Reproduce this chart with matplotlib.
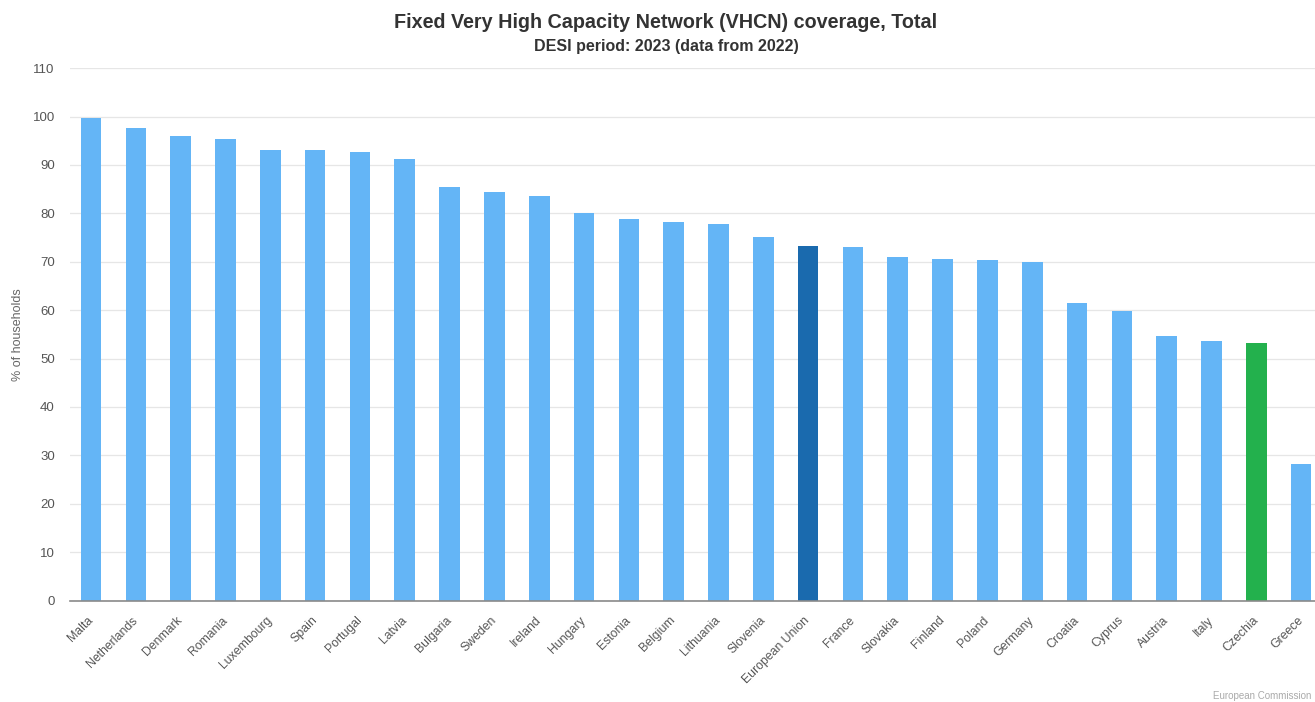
import matplotlib
matplotlib.use("Agg")
import matplotlib.pyplot as plt

plt.rcParams['font.family'] = ['Liberation Sans', 'DejaVu Sans']

countries = ["Malta", "Netherlands", "Denmark", "Romania", "Luxembourg", "Spain",
             "Portugal", "Latvia", "Bulgaria", "Sweden", "Ireland", "Hungary",
             "Estonia", "Belgium", "Lithuania", "Slovenia", "European Union",
             "France", "Slovakia", "Finland", "Poland", "Germany", "Croatia",
             "Cyprus", "Austria", "Italy", "Czechia", "Greece"]
values = [99.7, 97.6, 96.0, 95.3, 93.0, 93.0, 92.7, 91.3, 85.4, 84.4, 83.5,
          80.0, 78.9, 78.1, 77.8, 75.2, 73.2, 73.0, 71.0, 70.6, 70.4, 69.9,
          61.4, 59.9, 54.6, 53.6, 53.1, 28.2]
yticks = [0, 10, 20, 30, 40, 50, 60, 70, 80, 90, 100, 110]

base_color = "#64b5f6"
eu_color = "#1a6aae"
cz_color = "#23b14d"
colors = [eu_color if c == "European Union" else cz_color if c == "Czechia" else base_color
          for c in countries]

fig = plt.figure(figsize=(13.15, 7.02), dpi=100)
ax = fig.add_axes([70/1315, 1 - 600.5/702, 1 - 70/1315, (600.5 - 68.1)/702])

x = list(range(len(countries)))
ax.bar(x, values, width=0.46, color=colors, zorder=3)

ax.set_xlim(-0.47, 27.31)
ax.set_ylim(0, 110)
ax.set_yticks(yticks)
ax.set_yticklabels([str(v) for v in yticks], fontsize=9.5, color="#555555")
ax.tick_params(axis='y', length=0, pad=11)
ax.tick_params(axis='x', length=0, pad=13)
ax.grid(axis='y', color="#e6e6e6", linewidth=0.9, zorder=0)
ax.set_axisbelow(True)
for s in ["top", "right", "left"]:
    ax.spines[s].set_visible(False)
ax.spines["bottom"].set_color("#8a8a8a")
ax.spines["bottom"].set_linewidth(1.2)
ax.spines["bottom"].set_zorder(4)

ax.set_xticks(x)
ax.set_xticklabels(countries, rotation=45, ha="right", va="center",
                   rotation_mode="anchor", fontsize=8.8, color="#555555")

ax.set_ylabel("% of households", fontsize=9, color="#666666", labelpad=6)

fig.text(666/1315, 1 - 22/702, "Fixed Very High Capacity Network (VHCN) coverage, Total",
         ha="center", va="center", fontsize=14.2, fontweight="bold", color="#333333")
fig.text(666/1315, 1 - 47/702, "DESI period: 2023 (data from 2022)",
         ha="center", va="center", fontsize=11.5, fontweight="bold", color="#333333")
fig.text(1311/1315, 1 - 696/702, "European Commission", ha="right", va="center",
         fontsize=7, color="#aaaaaa")

fig.savefig("out.png", dpi=100, facecolor="white")
